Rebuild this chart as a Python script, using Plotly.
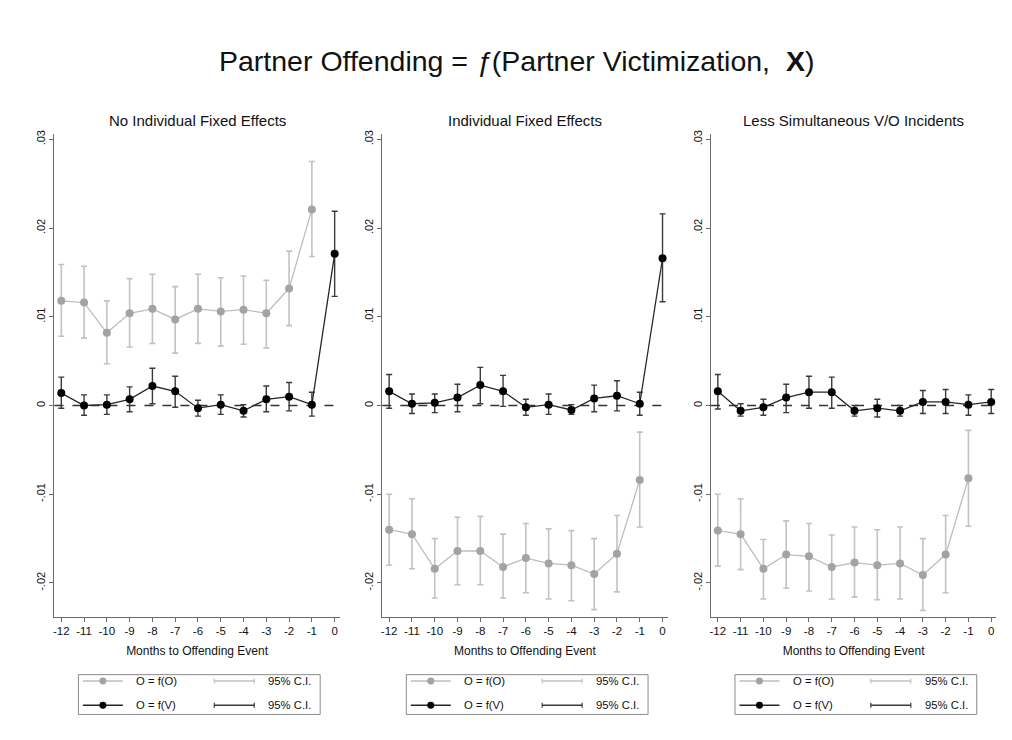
import plotly.graph_objects as go

# the page adds an 8px body margin, so the figure is drawn 8px in from the corner
PAGE_W, PAGE_H = 1012, 740
OFFSET = 8
W, H = PAGE_W - OFFSET, PAGE_H - OFFSET

MONTHS_O = list(range(-12, 0))
MONTHS_V = list(range(-12, 1))
X_TICK_TEXT = [str(m) for m in MONTHS_V]
PANEL_TITLES = [
    "No Individual Fixed Effects",
    "Individual Fixed Effects",
    "Less Simultaneous V/O Incidents",
]
Y_TICKS = [-0.02, -0.01, 0, 0.01, 0.02, 0.03]
Y_TICK_TEXT = ["-.02", "-.01", "0", ".01", ".02", ".03"]

# panel 1: no individual fixed effects
NOFE_O = [0.0118, 0.0116, 0.0082, 0.0104, 0.0109, 0.0097, 0.0109, 0.0106, 0.0108, 0.0104, 0.0132, 0.0221]
NOFE_O_HI = [0.0159, 0.0157, 0.0118, 0.0143, 0.0148, 0.0134, 0.0148, 0.0144, 0.0146, 0.0141, 0.0174, 0.0275]
NOFE_O_LO = [0.0078, 0.0076, 0.0047, 0.0066, 0.0070, 0.0059, 0.0070, 0.0067, 0.0069, 0.0065, 0.0090, 0.0168]
NOFE_V = [0.0014, 0.0000, 0.0001, 0.0007, 0.0022, 0.0016, -0.0003, 0.0001, -0.0006, 0.0007, 0.0010, 0.0001, 0.0171]
NOFE_V_HI = [0.0032, 0.0012, 0.0012, 0.0021, 0.0042, 0.0033, 0.0006, 0.0012, 0.0001, 0.0022, 0.0026, 0.0015, 0.0219]
NOFE_V_LO = [-0.0003, -0.0011, -0.0010, -0.0007, 0.0002, -0.0002, -0.0012, -0.0010, -0.0013, -0.0007, -0.0006, -0.0012, 0.0123]

# panel 2: individual fixed effects
FE_O = [-0.0140, -0.0145, -0.0184, -0.0164, -0.0164, -0.0182, -0.0172, -0.0178, -0.0180, -0.0190, -0.0167, -0.0084]
FE_O_HI = [-0.0100, -0.0105, -0.0150, -0.0126, -0.0125, -0.0145, -0.0133, -0.0139, -0.0141, -0.0150, -0.0124, -0.0030]
FE_O_LO = [-0.0180, -0.0184, -0.0217, -0.0202, -0.0202, -0.0217, -0.0211, -0.0218, -0.0220, -0.0230, -0.0210, -0.0137]
FE_V = [0.0016, 0.0002, 0.0003, 0.0009, 0.0023, 0.0016, -0.0002, 0.0001, -0.0005, 0.0008, 0.0011, 0.0002, 0.0166]
FE_V_HI = [0.0035, 0.0013, 0.0013, 0.0024, 0.0043, 0.0034, 0.0007, 0.0013, 0.0001, 0.0023, 0.0028, 0.0015, 0.0216]
FE_V_LO = [-0.0003, -0.0009, -0.0008, -0.0007, 0.0002, -0.0001, -0.0011, -0.0010, -0.0010, -0.0007, -0.0006, -0.0011, 0.0117]

# panel 3: less simultaneous V/O incidents
LS_O = [-0.0141, -0.0145, -0.0184, -0.0168, -0.0170, -0.0182, -0.0177, -0.0180, -0.0178, -0.0191, -0.0168, -0.0082]
LS_O_HI = [-0.0100, -0.0105, -0.0151, -0.0130, -0.0133, -0.0146, -0.0137, -0.0140, -0.0137, -0.0150, -0.0124, -0.0028]
LS_O_LO = [-0.0181, -0.0185, -0.0218, -0.0206, -0.0209, -0.0218, -0.0216, -0.0219, -0.0218, -0.0231, -0.0211, -0.0136]
LS_V = [0.0016, -0.0006, -0.0002, 0.0009, 0.0015, 0.0015, -0.0006, -0.0003, -0.0006, 0.0004, 0.0004, 0.0001, 0.0004]
LS_V_HI = [0.0035, 0.0002, 0.0007, 0.0024, 0.0033, 0.0032, 0.0000, 0.0007, 0.0000, 0.0017, 0.0018, 0.0012, 0.0018]
LS_V_LO = [-0.0004, -0.0012, -0.0011, -0.0008, -0.0003, -0.0003, -0.0012, -0.0013, -0.0012, -0.0009, -0.0009, -0.0011, -0.0009]

PANELS = [
    (NOFE_O, NOFE_O_HI, NOFE_O_LO, NOFE_V, NOFE_V_HI, NOFE_V_LO),
    (FE_O, FE_O_HI, FE_O_LO, FE_V, FE_V_HI, FE_V_LO),
    (LS_O, LS_O_HI, LS_O_LO, LS_V, LS_V_HI, LS_V_LO),
]

GRAY_MARK = "#a3a3a3"
GRAY_LINE = "#bdbdbd"
GRAY_CI = "#c2c2c2"
BLACK_LINE = "#262626"
BLACK_CI = "#3a3a3a"
AXIS_COLOR = "#6a6a6a"
TEXT = "#111111"
FONT = "Liberation Sans, Arial, sans-serif"

# positions below are page pixels as measured on the reference
PANEL_LEFT = [53.5, 381.7, 710.7]
PANEL_WIDTH = 285.5
PLOT_TOP, PLOT_BOTTOM = 130.7, 616.0
X_RANGE = [-12.3, 0.22]
Y_RANGE = [-0.0238, 0.0306]


def px_x(px):
    return (px - OFFSET) / W


def px_y(py):
    return 1 - (py - OFFSET) / H


def _errors(est, hi, lo):
    plus = [h - e for e, h in zip(est, hi)]
    minus = [e - l for e, l in zip(est, lo)]
    return plus, minus


def _paper_line(x0, x1, y0, y1, color, width):
    return {
        "type": "line",
        "xref": "paper",
        "yref": "paper",
        "x0": px_x(x0),
        "x1": px_x(x1),
        "y0": px_y(y0),
        "y1": px_y(y1),
        "line": {"color": color, "width": width},
    }


def _paper_text(text, x, y, size):
    return {
        "text": text,
        "xref": "paper",
        "yref": "paper",
        "x": px_x(x),
        "y": px_y(y),
        "xanchor": "left",
        "yanchor": "middle",
        "showarrow": False,
        "font": {"size": size, "color": TEXT},
    }


fig = go.Figure()
shapes = []
annotations = []

for i, (o_est, o_hi, o_lo, v_est, v_hi, v_lo) in enumerate(PANELS):
    n = "" if i == 0 else str(i + 1)
    xref, yref = f"x{n}", f"y{n}"

    plus, minus = _errors(o_est, o_hi, o_lo)
    fig.add_trace(
        go.Scatter(
            x=MONTHS_O,
            y=o_est,
            mode="lines+markers",
            xaxis=xref,
            yaxis=yref,
            showlegend=False,
            line={"color": GRAY_LINE, "width": 1.3},
            marker={"color": GRAY_MARK, "size": 8},
            error_y={
                "type": "data",
                "symmetric": False,
                "array": plus,
                "arrayminus": minus,
                "color": GRAY_CI,
                "thickness": 1.6,
                "width": 3,
            },
        )
    )

    plus, minus = _errors(v_est, v_hi, v_lo)
    fig.add_trace(
        go.Scatter(
            x=MONTHS_V,
            y=v_est,
            mode="lines+markers",
            xaxis=xref,
            yaxis=yref,
            showlegend=False,
            line={"color": BLACK_LINE, "width": 1.3},
            marker={"color": "#000000", "size": 8},
            error_y={
                "type": "data",
                "symmetric": False,
                "array": plus,
                "arrayminus": minus,
                "color": BLACK_CI,
                "thickness": 1.4,
                "width": 3,
            },
        )
    )

    left = PANEL_LEFT[i]
    fig.update_layout(
        {
            f"xaxis{n}": {
                "domain": [px_x(left), px_x(left + PANEL_WIDTH)],
                "anchor": yref,
                "range": X_RANGE,
                "tickvals": MONTHS_V,
                "ticktext": X_TICK_TEXT,
                "ticks": "outside",
                "ticklen": 4,
                "tickcolor": AXIS_COLOR,
                "showline": True,
                "linecolor": AXIS_COLOR,
                "showgrid": False,
                "zeroline": False,
                "tickfont": {"size": 11.5, "color": TEXT},
                "title": {
                    "text": "Months to Offending Event",
                    "font": {"size": 12, "color": TEXT},
                    "standoff": 10,
                },
            },
            f"yaxis{n}": {
                "domain": [px_y(PLOT_BOTTOM), px_y(PLOT_TOP)],
                "anchor": xref,
                "range": Y_RANGE,
                "tickvals": Y_TICKS,
                "ticktext": Y_TICK_TEXT,
                "tickangle": -90,
                "ticks": "outside",
                "ticklen": 4,
                "tickcolor": AXIS_COLOR,
                "showline": True,
                "linecolor": AXIS_COLOR,
                "showgrid": False,
                "zeroline": False,
                "tickfont": {"size": 11, "color": TEXT},
            },
        }
    )

    # dashed reference line at zero
    shapes.append(
        {
            "type": "line",
            "xref": f"{xref} domain",
            "yref": yref,
            "x0": 0,
            "x1": 1,
            "y0": 0,
            "y1": 0,
            "line": {"color": "#333333", "width": 1.3, "dash": "dash"},
            "layer": "below",
        }
    )

    annotations.append(
        {
            "text": PANEL_TITLES[i],
            "xref": f"{xref} domain",
            "yref": f"{yref} domain",
            "x": 0.5,
            "y": 1,
            "yanchor": "bottom",
            "yshift": 3,
            "showarrow": False,
            "font": {"size": 15, "color": TEXT},
        }
    )

    # legend box drawn by hand, one per panel
    bx0, bx1 = left + 24, left + 266
    by0, by1 = 674.3, 714.3
    shapes.append(
        {
            "type": "rect",
            "xref": "paper",
            "yref": "paper",
            "x0": px_x(bx0),
            "x1": px_x(bx1),
            "y0": px_y(by1),
            "y1": px_y(by0),
            "line": {"color": "#8a8a8a", "width": 1},
        }
    )
    rows = [
        (680.7, GRAY_LINE, GRAY_MARK, GRAY_CI, "O = f(O)"),
        (705.0, BLACK_LINE, "#000000", BLACK_CI, "O = f(V)"),
    ]
    for ry, lcol, mcol, ccol, label in rows:
        shapes.append(_paper_line(bx0 + 4.5, bx0 + 44.5, ry, ry, lcol, 1.4))
        shapes.append(
            {
                "type": "circle",
                "xref": "paper",
                "yref": "paper",
                "x0": px_x(bx0 + 21),
                "x1": px_x(bx0 + 28),
                "y0": px_y(ry + 3.5),
                "y1": px_y(ry - 3.5),
                "fillcolor": mcol,
                "line": {"color": mcol, "width": 0},
            }
        )
        shapes.append(_paper_line(bx0 + 136, bx0 + 176, ry, ry, ccol, 1.4))
        for cx in (bx0 + 136, bx0 + 176):
            shapes.append(_paper_line(cx, cx, ry - 2.5, ry + 2.5, ccol, 1.2))
        annotations.append(_paper_text(label, bx0 + 56, ry, 11.3))
        annotations.append(_paper_text("95% C.I.", bx0 + 188, ry, 11.3))

annotations.append(
    {
        "text": "Partner Offending = <i>\u0192</i>(Partner Victimization,\u00a0\u00a0<b>X</b>)",
        "xref": "paper",
        "yref": "paper",
        "x": px_x(516),
        "y": px_y(57),
        "xanchor": "center",
        "yanchor": "middle",
        "showarrow": False,
        "font": {"size": 28.5, "color": TEXT},
    }
)

fig.update_layout(
    width=W,
    height=H,
    margin={"l": 0, "r": 0, "t": 0, "b": 0},
    paper_bgcolor="#ffffff",
    plot_bgcolor="#ffffff",
    font={"family": FONT, "color": TEXT},
    showlegend=False,
    shapes=shapes,
    annotations=annotations,
)

fig.write_html("out.html")
